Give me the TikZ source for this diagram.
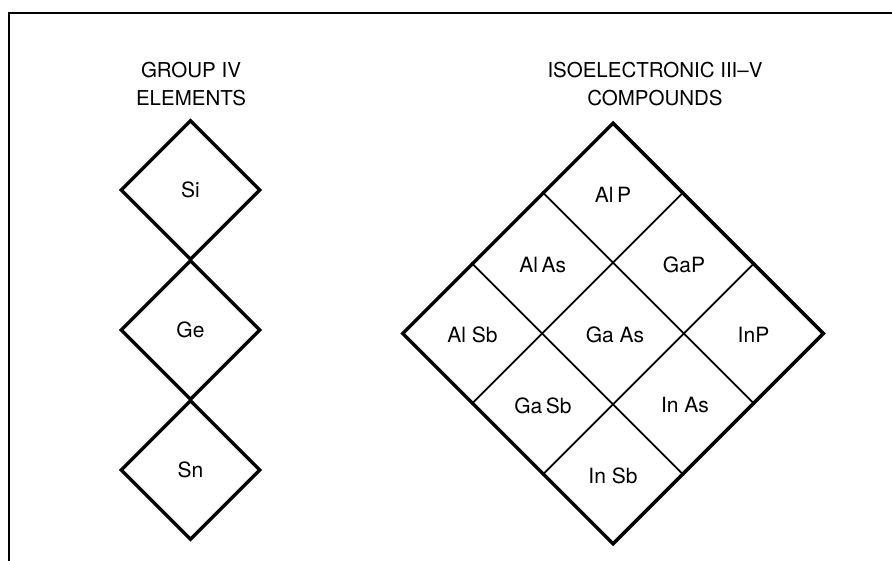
\documentclass[tikz,border=0pt]{standalone}
\usepackage{fontspec}
\setmainfont{TeX Gyre Heros}
\usetikzlibrary{shapes.geometric,calc}
\begin{document}
\begin{tikzpicture}[x=1pt,y=-1pt,
  frame/.style={line width=1.8pt},
  elembox/.style={diamond,draw,line width=3.3pt,inner sep=0pt,aspect=1,
    minimum width=140pt,minimum height=140pt,font=\fontsize{21}{25}\selectfont},
  bigbox/.style={diamond,draw,line width=3.5pt,inner sep=0pt,aspect=1,
    minimum width=422pt,minimum height=422pt},
  gridline/.style={line width=1.7pt},
  lbl/.style={font=\fontsize{21}{25}\selectfont,inner sep=0pt},
  ttl/.style={font=\fontsize{20.5}{28.5}\selectfont,align=center,inner sep=0pt}]
\useasboundingbox (0,0) rectangle (892,561);

% page frame: top rule and left rule
\coordinate (fA) at (9,561);
\coordinate (fB) at (9,13);
\coordinate (fC) at (892,13);
\draw[frame] (fA) -- (fB) -- (fC);

% headings
\node[ttl] (t1) at (191,84) {GROUP IV\\ELEMENTS};
\node[ttl] (t2) at (655,84) {ISOELECTRONIC III--V\\COMPOUNDS};

% group IV column
\node[elembox] (si) at (190.5,190) {Si};
\node[elembox] (ge) at (190.5,330) {Ge};
\node[elembox] (sn) at (190.5,470) {Sn};

% III-V compounds: a diamond split into a 3x3 grid
\node[bigbox] (big) at (613,333.5) {};
\coordinate (nw1) at ($(big.north)!1/3!(big.west)$);
\coordinate (nw2) at ($(big.north)!2/3!(big.west)$);
\coordinate (ne1) at ($(big.north)!1/3!(big.east)$);
\coordinate (ne2) at ($(big.north)!2/3!(big.east)$);
\coordinate (sw1) at ($(big.west)!1/3!(big.south)$);
\coordinate (sw2) at ($(big.west)!2/3!(big.south)$);
\coordinate (se1) at ($(big.east)!1/3!(big.south)$);
\coordinate (se2) at ($(big.east)!2/3!(big.south)$);
\draw[gridline] (nw1) -- (se1);
\draw[gridline] (nw2) -- (se2);
\draw[gridline] (ne1) -- (sw1);
\draw[gridline] (ne2) -- (sw2);

\node[lbl] (alp)  at (613,195)   {Al\,P};
\node[lbl] (alas) at (542.7,265) {Al\,As};
\node[lbl] (gap)  at (684,265)   {GaP};
\node[lbl] (alsb) at (472.5,335) {Al Sb};
\node[lbl] (gaas) at (615,335)   {Ga As};
\node[lbl] (inp)  at (753.5,335) {InP};
\node[lbl] (gasb) at (543,405.5) {Ga\,Sb};
\node[lbl] (inas) at (685,405.5) {In As};
\node[lbl] (insb) at (613,476)   {In Sb};
\end{tikzpicture}
\end{document}
